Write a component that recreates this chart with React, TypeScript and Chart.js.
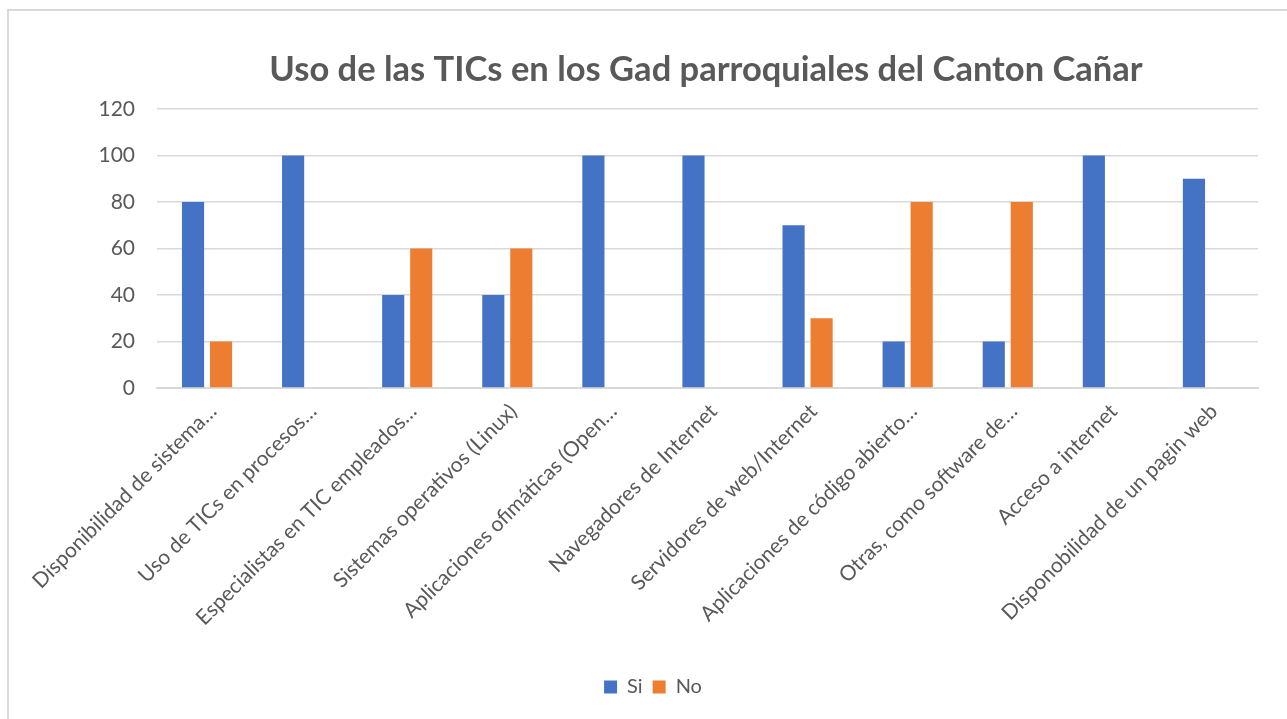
import React, { useEffect, useRef } from "react";
import { Chart, registerables } from "chart.js";

Chart.register(...registerables);

const categories = [
  "Disponibilidad de sistema…",
  "Uso de TICs en procesos…",
  "Especialistas en TIC empleados…",
  "Sistemas operativos (Linux)",
  "Aplicaciones ofimáticas (Open…",
  "Navegadores de Internet",
  "Servidores de web/Internet",
  "Aplicaciones de código abierto…",
  "Otras, como software de…",
  "Acceso a internet",
  "Disponobilidad de un pagin web",
];

const siValues = [80, 100, 40, 40, 100, 100, 70, 20, 20, 100, 90];
const noValues = [20, 0, 60, 60, 0, 0, 30, 80, 80, 0, 0];

const titleText = "Uso de las TICs en los Gad parroquiales del Canton Cañar";
const FONT = "Lato, 'Open Sans', sans-serif";
const TEXT = "#595959";

const titlePlugin = {
  id: "excelTitle",
  afterDraw(chart: any) {
    const ctx = chart.ctx;
    ctx.save();
    ctx.font = `bold 34.5px ${FONT}`;
    ctx.fillStyle = TEXT;
    ctx.textAlign = "center";
    ctx.textBaseline = "middle";
    ctx.fillText(titleText, 706, 70);
    ctx.restore();
  },
};

export default function App() {
  const ref = useRef<HTMLCanvasElement | null>(null);

  useEffect(() => {
    if (!ref.current) return;
    const chart = new Chart(ref.current, {
      type: "bar",
      data: {
        labels: categories,
        datasets: [
          {
            label: "Si",
            data: siValues,
            backgroundColor: "#4472C4",
            categoryPercentage: 0.56,
            barPercentage: 0.79,
          },
          {
            label: "No",
            data: noValues,
            backgroundColor: "#ED7D31",
            categoryPercentage: 0.56,
            barPercentage: 0.79,
          },
        ],
      },
      plugins: [titlePlugin],
      options: {
        animation: false,
        responsive: false,
        maintainAspectRatio: false,
        layout: { padding: { top: 109, left: 48, right: 29, bottom: 12 } },
        plugins: {
          title: { display: false },
          legend: {
            position: "bottom",
            labels: {
              color: TEXT,
              font: { family: FONT, size: 20 },
              boxWidth: 13,
              boxHeight: 13,
              padding: 10,
            },
          },
          tooltip: { enabled: false },
        },
        scales: {
          x: {
            grid: { display: false },
            border: { display: true, color: "#d9d9d9", width: 2 },
            ticks: {
              color: TEXT,
              font: { family: FONT, size: 21 },
              autoSkip: false,
              maxRotation: 45,
              minRotation: 45,
              padding: 3,
              labelOffset: 6,
            },
            afterFit: (scale: any) => {
              scale.height = 279;
            },
          },
          y: {
            min: 0,
            max: 120,
            grid: { color: "#d9d9d9", lineWidth: 1.5, drawTicks: false },
            border: { display: false },
            ticks: {
              stepSize: 20,
              color: TEXT,
              font: { family: FONT, size: 21 },
              padding: 22,
            },
            afterFit: (scale: any) => {
              scale.width = 109;
            },
          },
        },
      },
    });
    return () => chart.destroy();
  }, []);

  return (
    <div
      style={{
        position: "fixed",
        left: 0,
        top: 0,
        width: 1287,
        height: 719,
        overflow: "hidden",
        background: "#fff",
      }}
    >
      <div
        style={{
          position: "absolute",
          left: 7,
          top: 9,
          width: 1300,
          height: 730,
          border: "2px solid #d9d9d9",
        }}
      />
      <canvas
        ref={ref}
        width={1287}
        height={719}
        style={{ position: "absolute", left: 0, top: 0, width: 1287, height: 719 }}
      />
    </div>
  );
}
